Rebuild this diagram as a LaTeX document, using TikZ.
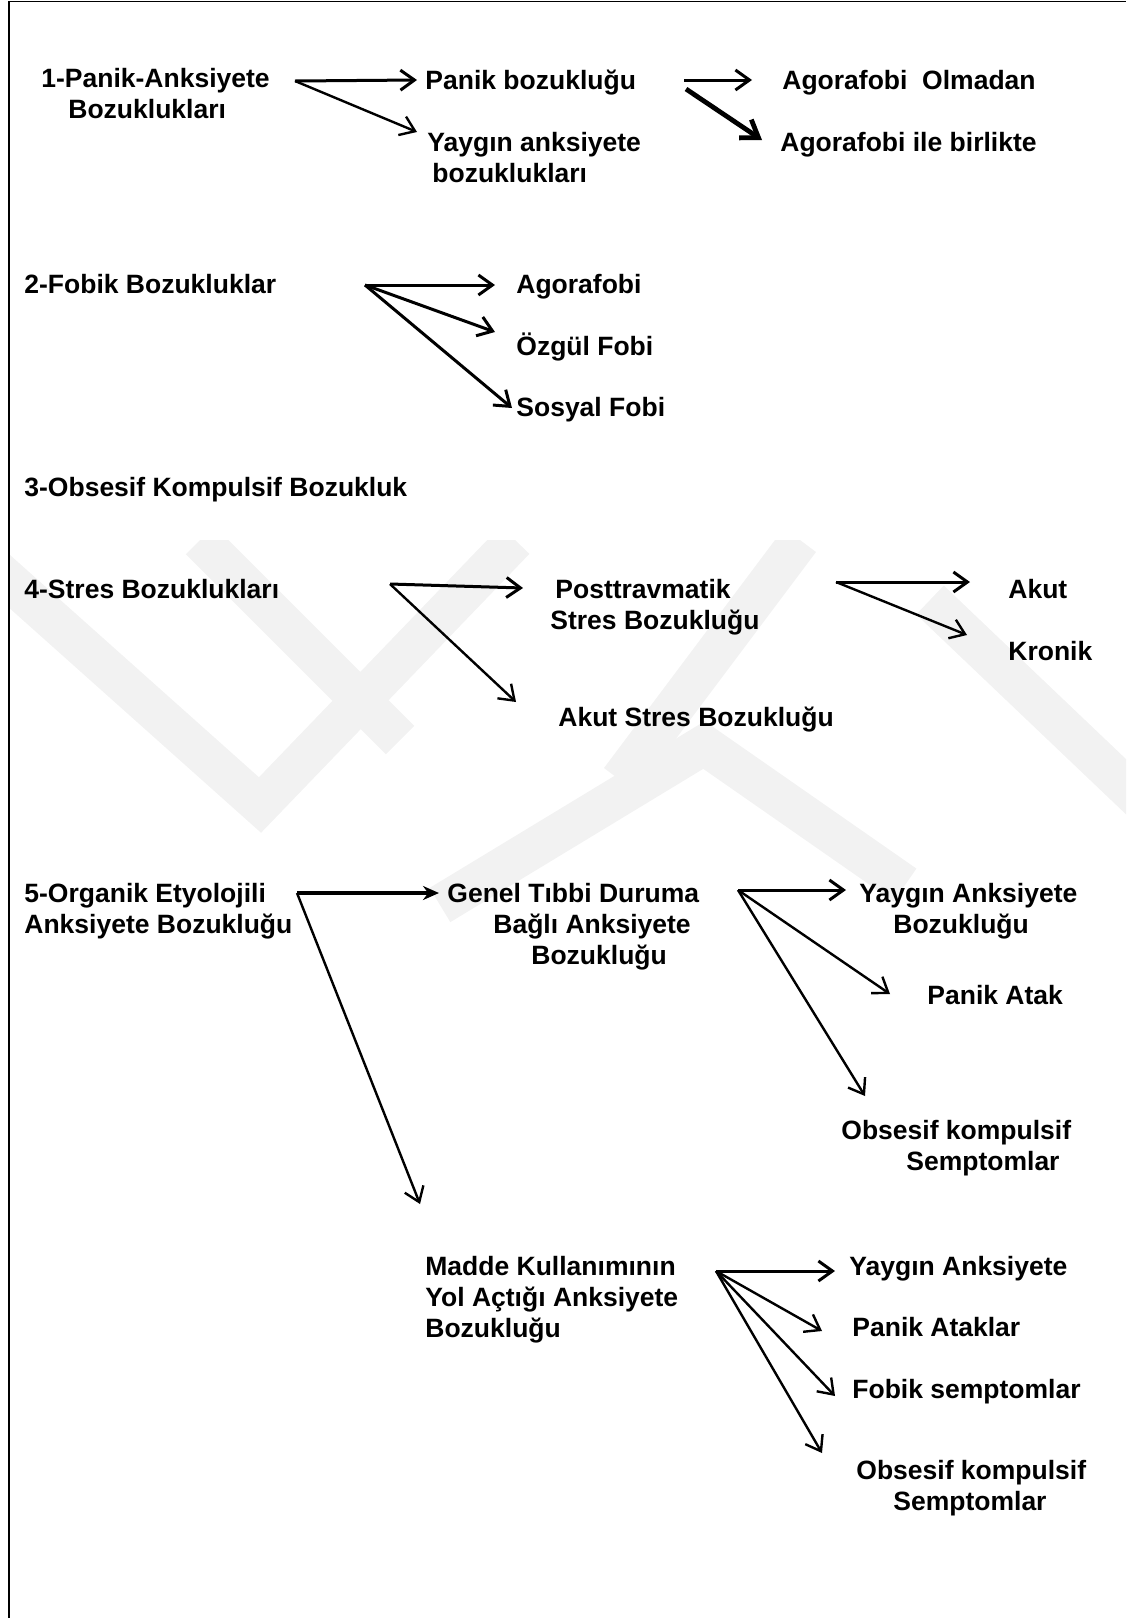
\documentclass[tikz,border=0pt]{standalone}
\usepackage{fontspec}
\setmainfont{Liberation Sans}
\usetikzlibrary{arrows.meta,positioning}

\begin{document}
\begin{tikzpicture}[
  x=0.5pt, y=-0.5pt,
  lab/.style={font=\bfseries\fontsize{13.25}{15.5}\selectfont, inner sep=0pt, anchor=base west, align=left},
  arr/.style={-{Straight Barb[length=7pt,width=10pt]}, line width=1.2pt},
  harr/.style={arr, line width=1.5pt},
  fat/.style={-{Straight Barb[length=8pt,width=11pt]}, line width=2.4pt},
  sarr/.style={-{Stealth[length=8pt,width=7pt]}, line width=1.6pt},
  wm/.style={black!5, line width=20pt, line cap=butt}
]
\useasboundingbox (0,0) rectangle (1126,1618);

% watermark
\begin{scope}
\clip (10,540) rectangle (1126,950);
\draw[wm] (-20,555) -- (260,805) -- (515,540);
\draw[wm] (200,540) -- (400,740);
\draw[wm] (800,540) -- (620,780);
\draw[wm] (440,905) -- (704,745) -- (905,885);
\draw[wm] (930,600) -- (1140,800);
\end{scope}
\draw[line width=0.8pt] (9,1618) -- (9,1.5) -- (1126,1.5);

% 1
\node[lab] (p1) at (41,118) {1-Panik-Anksiyete\\\hspace*{13.5pt}Bozuklukları};
\node[lab] (pb) at (425,89) {Panik bozukluğu};
\node[lab] (ya) at (427,182) {Yaygın anksiyete\\\hspace*{2.5pt}bozuklukları};
\node[lab] (ao) at (782,89) {Agorafobi\ \ Olmadan};
\node[lab] (ab) at (780,151) {Agorafobi ile birlikte};
\coordinate (b1) at (295,81);
\coordinate (b2) at (684,80);
\coordinate (b2t) at (686,89);
\draw[harr] (b1) -- ([shift={(-8,-9)}]pb.base west);
\draw[arr] (b1) -- ([shift={(-10,-50)}]ya.base west);
\draw[harr] (b2) -- ([shift={(-30,-9)}]ao.base west);
\draw[fat] (b2t) -- ([shift={(-18,-11)}]ab.base west);

% 2
\node[lab] (f2) at (24,293) {2-Fobik Bozukluklar};
\node[lab] (fa) at (516,293) {Agorafobi};
\node[lab] (fo) at (516,355) {Özgül Fobi};
\node[lab] (fs) at (516,416) {Sosyal Fobi};
\coordinate (b3) at (365,285);
\draw[harr] (b3) -- ([shift={(-21,-8)}]fa.base west);
\draw[harr] (b3) -- ([shift={(-21,-23)}]fo.base west);
\draw[harr] (b3) -- ([shift={(-4,-8)}]fs.base west);

% 3
\node[lab] (o3) at (24,496) {3-Obsesif Kompulsif Bozukluk};

% 4
\node[lab] (s4) at (24,598) {4-Stres Bozuklukları};
\node[lab] (pt) at (550,629) {\hspace*{2.5pt}Posttravmatik\\Stres Bozukluğu};
\node[lab] (ak) at (1008,598) {Akut};
\node[lab] (kr) at (1008,660) {Kronik};
\node[lab] (as) at (558,726) {Akut Stres Bozukluğu};
\coordinate (b4) at (390,584);
\coordinate (b5) at (836,582);
\draw[harr] (b4) -- ([shift={(-27,-41)}]pt.base west);
\draw[arr] (b4) -- ([shift={(-42,-24)}]as.base west);
\draw[harr] (b5) -- ([shift={(-38,-16)}]ak.base west);
\draw[arr] (b5) -- ([shift={(-41,-25)}]kr.base west);

% 5
\node[lab] (o5) at (24,933) {5-Organik Etyolojili\\Anksiyete Bozukluğu};
\node[lab] (g) at (447,964) {Genel Tıbbi Duruma\\\hspace*{23pt}Bağlı Anksiyete\\\hspace*{42pt}Bozukluğu};
\node[lab] (gy) at (859,933) {Yaygın Anksiyete\\\hspace*{17pt}Bozukluğu};
\node[lab] (gp) at (927,1004) {Panik Atak};
\node[lab] (go) at (841,1170) {Obsesif kompulsif\\\hspace*{32.5pt}Semptomlar};
\coordinate (b6) at (297,893);
\coordinate (b7) at (738,890);
\draw[sarr] (b6) -- ([shift={(-8,-71)}]g.base west);
\draw[harr] (b7) -- ([shift={(-13,-43)}]gy.base west);
\draw[arr] (b7) -- ([shift={(-37,-10)}]gp.base west);
\draw[arr] (b7) -- ([shift={(24,-74)}]go.base west);

% 6
\node[lab] (m) at (425,1337) {Madde Kullanımının\\Yol Açtığı Anksiyete\\Bozukluğu};
\node[lab] (my) at (849,1275) {Yaygın Anksiyete};
\node[lab] (mp) at (852,1336) {Panik Ataklar};
\node[lab] (mf) at (852,1398) {Fobik semptomlar};
\node[lab] (mo) at (856,1510) {Obsesif kompulsif\\\hspace*{18.5pt}Semptomlar};
\draw[arr] (b6) -- ([shift={(-5,-133)}]m.base west);
\coordinate (b8) at (716,1271);
\draw[harr] (b8) -- ([shift={(-14,-4)}]my.base west);
\draw[arr] (b8) -- ([shift={(-30,-5)}]mp.base west);
\draw[arr] (b8) -- ([shift={(-17,-2)}]mf.base west);
\draw[arr] (b8) -- ([shift={(-34,-57)}]mo.base west);
\end{tikzpicture}
\end{document}
